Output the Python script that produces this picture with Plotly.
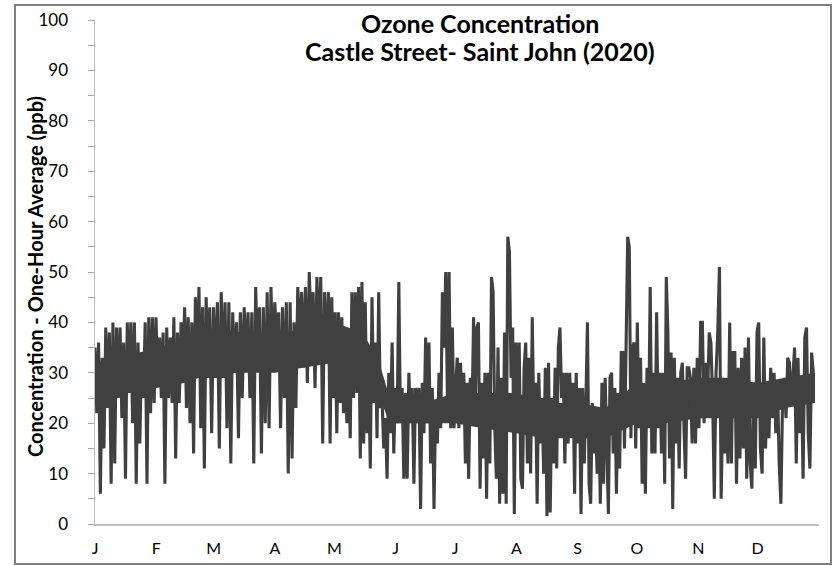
import numpy as np
import pandas as pd
import plotly.graph_objects as go

# Segment boundaries (dates) for the hourly ozone readings
seg_bounds = ["2020-01-01", "2020-02-28", "2020-04-28", "2020-06-28",
              "2020-08-28", "2020-10-28", "2020-12-30"]

# Ozone one-hour averages (ppb), read as successive highs/lows
seg_jan_feb = [35, 22, 36, 6, 33, 15, 39, 23, 38, 8, 40, 12, 39, 25, 39, 21, 36, 9, 40, 26,
               40, 20, 40, 8, 36, 16, 34, 25, 40, 8, 41, 22, 41, 24, 41, 30, 37, 25, 38, 8,
               39, 25, 37, 24, 41, 13, 38, 24, 40, 29, 43, 23, 41, 20, 40, 14, 45, 30, 47, 19,
               43, 11, 45, 29]
seg_mar_apr = [43, 18, 43, 29, 44, 15, 46, 29, 44, 19, 44, 12, 42, 30, 40, 17, 42, 25, 43, 32,
               42, 25, 42, 12, 47, 32, 43, 14, 43, 20, 46, 19, 47, 31, 44, 36, 42, 19, 43, 25,
               44, 10, 44, 13, 40, 23, 47, 36, 46, 31, 47, 28, 50, 38, 46, 27, 49, 35, 49, 16,
               46, 33]
seg_may_jun = [46, 16, 45, 25, 42, 18, 42, 24, 41, 22, 39, 20, 38, 17, 46, 25, 46, 26, 47, 13,
               48, 16, 44, 18, 30, 11, 45, 24, 36, 17, 46, 23, 25, 15, 21, 9, 30, 18, 36, 14,
               27, 20, 48, 20, 27, 9, 26, 9, 30, 20, 27, 8, 27, 20, 27, 3, 28, 18, 37, 20,
               36, 12, 27, 3, 24, 16, 30, 19, 46, 35, 50, 25]
seg_jul_aug = [50, 19, 39, 19, 27, 33, 19, 32, 24, 30, 12, 28, 9, 29, 20, 41, 23, 39, 40, 7,
               28, 13, 30, 5, 30, 12, 49, 46, 19, 9, 35, 4, 29, 6, 38, 4, 57, 54, 29, 39,
               2, 36, 19, 36, 9, 7, 31, 36, 12, 33, 10, 41, 20, 28, 4, 30, 16, 25, 10, 31,
               1.6, 32, 2.3, 25, 12, 31, 11, 35, 39, 25, 30, 12, 30, 16]
seg_sep_oct = [30, 18, 28, 6, 30, 16, 27, 2, 27, 12, 24, 40, 8, 4, 24, 14, 21, 10, 21, 4,
               28, 8, 29, 14, 2, 29, 30, 14, 27, 6, 26, 11, 34, 34, 15, 35, 57, 55, 17, 35,
               36, 15, 40, 19, 33, 8, 25, 6, 31, 19, 47, 14, 30, 14, 42, 19, 30, 14, 30, 8,
               49, 38, 13, 34, 3, 33, 16, 29, 11, 30, 32, 19, 9, 31, 31]
seg_nov_dec = [29, 16, 31, 16, 33, 19, 40, 40, 20, 32, 24, 38, 36, 25, 5, 30, 38, 51, 5, 24,
               14, 25, 12, 40, 12, 34, 34, 8, 31, 13, 33, 15, 35, 9, 37, 12, 7, 28, 11, 38,
               40, 15, 10, 37, 15, 28, 17, 31, 21, 30, 18, 28, 12, 4, 25, 29, 21, 33, 32, 26,
               29, 35, 12, 33, 18, 29, 9, 37, 39, 18, 11, 34, 30]

# dense core of the hourly trace (where the line fills solidly)
core_dates = ["2020-01-01", "2020-01-15", "2020-02-01", "2020-02-15", "2020-03-01",
              "2020-03-15", "2020-04-01", "2020-04-15", "2020-05-01", "2020-05-15",
              "2020-05-23", "2020-05-29", "2020-06-15", "2020-07-01", "2020-07-15",
              "2020-08-01", "2020-08-15", "2020-09-01", "2020-09-15", "2020-10-01",
              "2020-10-15", "2020-11-01", "2020-11-15", "2020-12-01", "2020-12-15",
              "2020-12-30"]
core_low = [26, 26, 27, 28, 30, 30, 30, 31, 32, 30, 26, 20, 20, 20, 19, 18, 17, 17, 17, 20,
            20, 21, 21, 21, 23, 24]
core_high = [32, 33, 35, 36, 39, 38, 37, 39, 40, 38, 33, 25, 24, 26, 26, 26, 24, 24, 23, 28,
             28, 29, 29, 28, 29, 30]

month_labels = ["J", "F", "M", "A", "M", "J", "J", "A", "S", "O", "N", "D"]
y_ticks = [0, 10, 20, 30, 40, 50, 60, 70, 80, 90, 100]

segments = [seg_jan_feb, seg_mar_apr, seg_may_jun, seg_jul_aug, seg_sep_oct, seg_nov_dec]
xs, ys = [], []
for i, seg in enumerate(segments):
    t0 = pd.Timestamp(seg_bounds[i])
    t1 = pd.Timestamp(seg_bounds[i + 1])
    ts = pd.date_range(t0, t1, periods=len(seg) + 1)[:-1]
    xs.extend(ts)
    ys.extend(seg)

month_starts = pd.date_range("2020-01-01", periods=12, freq="MS")

FONT = "Lato, Calibri, 'Open Sans', sans-serif"
LINE_COLOR = "#404040"
BORDER = "#808080"

# plot-area geometry in pixels
W, H = 833, 566
L, R, T, B = 95, 819, 20, 524
PW, PH = R - L, B - T


def px(xp):
    return (xp - L) / PW


def py(yp):
    return (B - yp) / PH


fig = go.Figure()
# solid core of the dense hourly trace
core_x = pd.to_datetime(core_dates)
fig.add_trace(go.Scatter(x=list(core_x) + list(core_x[::-1]),
                         y=core_high + core_low[::-1],
                         fill="toself", fillcolor=LINE_COLOR, mode="none",
                         hoverinfo="skip", showlegend=False))
fig.add_trace(go.Scatter(x=xs, y=ys, mode="lines",
                         line=dict(color=LINE_COLOR, width=3.1),
                         hoverinfo="skip", showlegend=False))

fig.update_layout(
    width=W, height=H,
    margin=dict(l=L, r=W - R, t=T, b=H - B, autoexpand=False),
    paper_bgcolor="white", plot_bgcolor="white",
    font=dict(family=FONT, color="#000000"),
    xaxis=dict(type="date", range=["2020-01-01", "2021-01-01"],
               tickvals=month_starts, ticktext=month_labels,
               showline=True, linecolor="#BFBFBF", linewidth=1.5,
               showgrid=False, zeroline=False, ticks="",
               ticklabelstandoff=9, automargin=False,
               tickfont=dict(size=16, family=FONT, color="#000000")),
    yaxis=dict(range=[0, 100], tickvals=y_ticks,
               showline=True, linecolor="#BFBFBF", linewidth=1.5,
               showgrid=False, zeroline=False,
               ticks="outside", ticklen=6, tickcolor="#A6A6A6", tickwidth=1,
               minor=dict(dtick=5, ticks="outside", ticklen=6, tickcolor="#A6A6A6",
                          showgrid=False),
               ticklabelstandoff=16, automargin=False,
               tickfont=dict(size=17, family=FONT, color="#000000")),
)

# title, two lines
fig.add_annotation(text="<b>Ozone Concentration</b>", xref="paper", yref="paper",
                   x=px(480), y=py(23), showarrow=False,
                   xanchor="center", yanchor="middle",
                   font=dict(size=25, family=FONT, color="#000000"))
fig.add_annotation(text="<b>Castle Street- Saint John (2020)</b>", xref="paper", yref="paper",
                   x=px(480), y=py(51), showarrow=False,
                   xanchor="center", yanchor="middle",
                   font=dict(size=25, family=FONT, color="#000000"))

fig.add_annotation(text="<b>Concentration - One-Hour Average (ppb)</b>",
                   xref="paper", yref="paper", x=px(35), y=py(277),
                   textangle=-90, showarrow=False, xanchor="center", yanchor="middle",
                   font=dict(size=20, family=FONT, color="#000000"))

# page tweaks: no body margin, and the grey outer chart frame
page_js = (
    "document.body.style.margin='0';"
    "document.body.style.overflow='hidden';"
    "var f=document.createElement('div');"
    "f.style.cssText='position:fixed;left:14px;top:4px;width:818px;height:561px;"
    "border:2px solid " + BORDER + ";box-sizing:border-box;pointer-events:none;z-index:1000;';"
    "document.body.appendChild(f);"
)

fig.write_html("out.html",
               config={"displayModeBar": False, "staticPlot": True},
               post_script=page_js)
